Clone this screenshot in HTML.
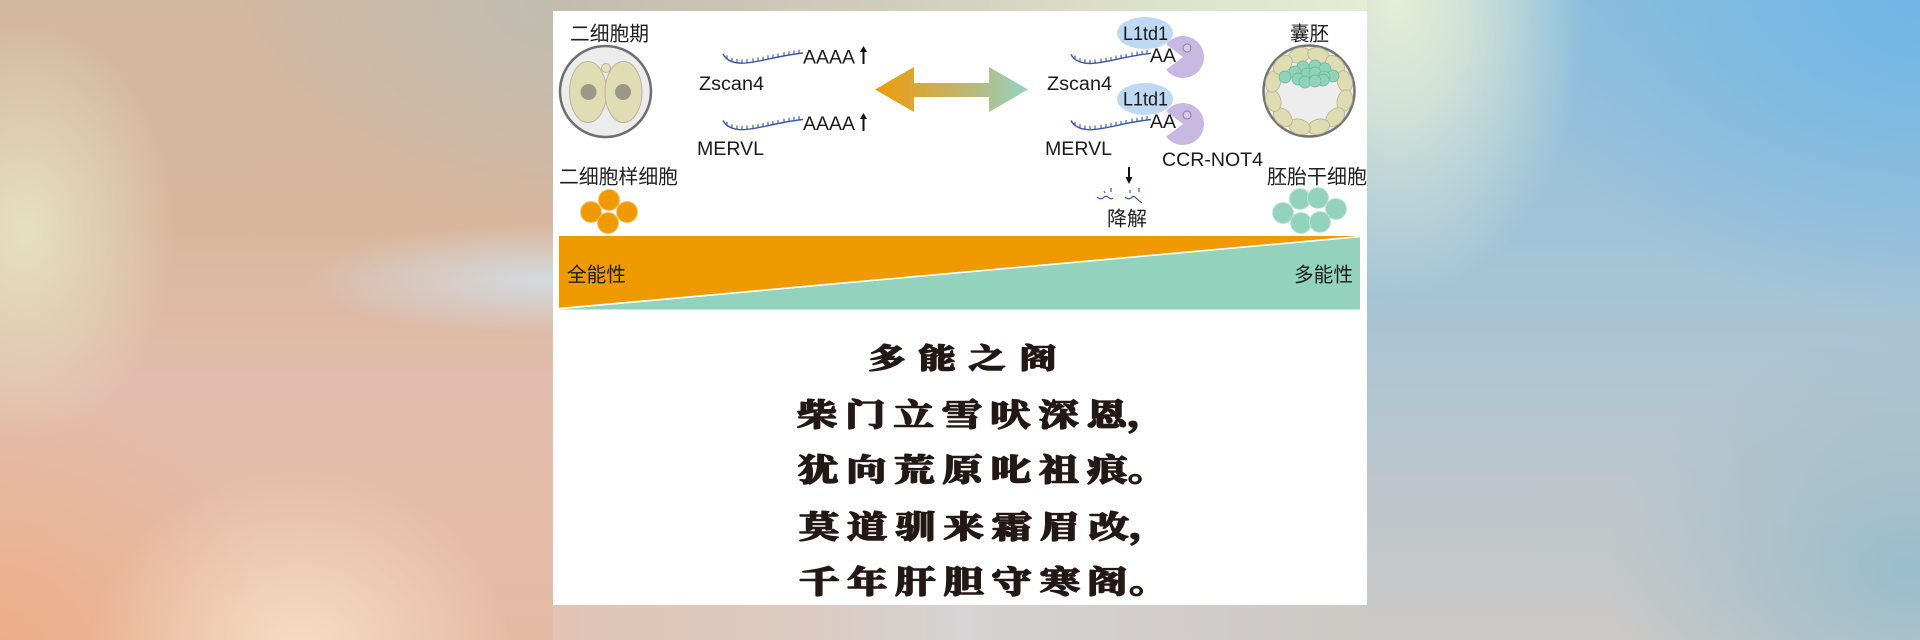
<!DOCTYPE html>
<html><head><meta charset="utf-8">
<style>
html,body{margin:0;padding:0;width:1920px;height:640px;overflow:hidden;background:#d8c4b4;}
.bg{position:absolute;}
#L{left:0;top:0;width:553px;height:640px;background:
 radial-gradient(150px 210px at 25px 230px, rgba(230,226,196,0.95) 0%, rgba(230,226,196,0.55) 45%, rgba(230,226,196,0) 100%),
 radial-gradient(240px 55px at 545px 280px, rgba(210,224,234,0.85) 0%, rgba(210,224,234,0) 100%),
 radial-gradient(210px 180px at 300px 650px, rgba(246,222,196,0.95) 0%, rgba(246,222,196,0) 100%),
 radial-gradient(280px 260px at 0px 650px, rgba(238,174,134,0.95) 0%, rgba(238,174,134,0) 100%),
 radial-gradient(320px 220px at 560px 0px, rgba(188,190,178,0.9) 0%, rgba(188,190,178,0) 100%),
 linear-gradient(to bottom, #d3b8a2 0%, #d8b79e 35%, #e2bdad 60%, #e6bba6 100%);}
#R{left:1367px;top:0;width:553px;height:640px;background:
 radial-gradient(190px 300px at 30px 0px, rgba(230,238,214,1) 0%, rgba(230,238,214,0.7) 40%, rgba(230,238,214,0) 100%),
 radial-gradient(420px 320px at 553px 0px, rgba(112,182,230,1) 0%, rgba(112,182,230,0) 100%),
 radial-gradient(300px 240px at 540px 570px, rgba(150,188,204,0.9) 0%, rgba(150,188,204,0) 100%),
 linear-gradient(to bottom, #90bfdc 0%, #a6c4d6 45%, #bcc6cc 75%, #cbc9c6 100%);}
#T{left:553px;top:0;width:814px;height:11px;background:linear-gradient(to right,#c4bcae 0%,#d0ccbc 40%,#dde2cc 75%,#e4ecd6 100%);}
#B{left:553px;top:605px;width:814px;height:35px;background:linear-gradient(to right,#e2c4b4 0%,#dccac0 30%,#d6d4d4 50%,#d2cdcb 75%,#ccc8c4 100%);}
svg{position:absolute;left:0;top:0;}
.lt{font-family:"Liberation Sans",Arial,sans-serif;font-size:19px;fill:#1a1a1a;}
.cj{font-family:"Liberation Sans","Noto Sans CJK SC",sans-serif;font-size:20px;fill:#1e1e1e;}
.pm{font-family:"Noto Serif CJK SC","Liberation Serif",serif;fill:#231815;stroke:#231815;stroke-width:1.6;stroke-linejoin:round;font-weight:700;}
</style></head>
<body>
<div class="bg" id="L"></div>
<div class="bg" id="R"></div>
<div class="bg" id="T"></div>
<div class="bg" id="B"></div>
<svg width="1920" height="640" viewBox="0 0 1920 640" xmlns="http://www.w3.org/2000/svg">
<defs>
 <linearGradient id="ag" x1="875" y1="0" x2="1028" y2="0" gradientUnits="userSpaceOnUse">
  <stop offset="0" stop-color="#ec9c08"/>
  <stop offset="0.5" stop-color="#c8b062"/>
  <stop offset="1" stop-color="#90d4c0"/>
 </linearGradient>
 <g id="rna" fill="none" stroke="#3a56a8" stroke-width="1.4">
  <path d="M0,0 C3,6 9,9 19,9.2 C34,9.2 52,2 80,-1"/>
  <path d="M4,5 v-3.8 M9,7.6 v-3.8 M14,8.8 v-3.8 M19,9.2 v-3.8 M24,8.9 v-3.8 M30,8.1 v-3.8 M35,7.3 v-3.8 M40,6.4 v-3.8 M45,5.1 v-3.8 M50,4.2 v-3.8 M55,3.3 v-3.8 M61,1.9 v-3.8 M66,1 v-3.8 M71,0.1 v-3.8 M76,-0.6 v-3.8" stroke-width="1.1"/>
 </g>
 <g id="pac">
  <path d="M0,0 L-16.8,-12.6 A21,21 0 1 1 -16.8,12.6 Z" fill="#c8b8e2"/>
  <circle cx="4" cy="-9" r="4" fill="#d6cbe8" stroke="#8a8296" stroke-width="1"/>
 </g>
 <g id="upar" fill="#111">
  <rect x="-1" y="-9" width="2" height="13"/>
  <path d="M-3.5,-8 L3.5,-8 L0,-14 Z"/>
 </g>
</defs>

<!-- panel -->
<rect x="553" y="11" width="814" height="594" fill="#fff"/>

<!-- two-cell stage -->
<text class="cj" x="570" y="40.5" textLength="79" lengthAdjust="spacingAndGlyphs">二细胞期</text>
<circle cx="605.5" cy="91.5" r="45.5" fill="#ececec" stroke="#6e6e6e" stroke-width="2.5"/>
<ellipse cx="588" cy="92" rx="18.5" ry="30.5" fill="#e0dcb4" stroke="#b8b59c" stroke-width="1"/>
<ellipse cx="623.5" cy="92" rx="18.5" ry="30.5" fill="#e0dcb4" stroke="#b8b59c" stroke-width="1"/>
<circle cx="606" cy="68" r="4.5" fill="#e4e0bc" stroke="#b8b59c" stroke-width="1"/>
<circle cx="588.5" cy="92" r="8" fill="#9c9888"/>
<circle cx="623" cy="92" r="8" fill="#9c9888"/>

<!-- two-cell-like cells -->
<text class="cj" x="559" y="183.5" textLength="119" lengthAdjust="spacingAndGlyphs">二细胞样细胞</text>
<g fill="#ee9a00" stroke="#f6c470" stroke-width="1">
 <circle cx="609" cy="200" r="10.5"/>
 <circle cx="591" cy="212" r="10.5"/>
 <circle cx="627" cy="212" r="10.5"/>
 <circle cx="608" cy="223" r="10.5"/>
</g>

<!-- left RNAs -->
<use href="#rna" x="723" y="54"/>
<text class="lt" x="803" y="63.5" textLength="52" lengthAdjust="spacingAndGlyphs">AAAA</text>
<use href="#upar" x="863.5" y="60"/>
<text class="lt" x="699" y="90" textLength="65" lengthAdjust="spacingAndGlyphs">Zscan4</text>
<use href="#rna" x="723" y="120.5"/>
<text class="lt" x="803" y="130" textLength="52" lengthAdjust="spacingAndGlyphs">AAAA</text>
<use href="#upar" x="863.5" y="127"/>
<text class="lt" x="697" y="155" textLength="67" lengthAdjust="spacingAndGlyphs">MERVL</text>

<!-- double arrow -->
<polygon points="875,89.5 914,67 914,83 989,83 989,67 1028,89.5 989,112 989,97 914,97 914,112" fill="url(#ag)"/>

<!-- right side complexes -->
<ellipse cx="1145" cy="33" rx="28" ry="16" fill="#bfd9f2"/>
<use href="#pac" x="1183" y="57"/>
<use href="#rna" x="1071" y="54.3"/>
<text class="lt" x="1123" y="40" textLength="45" lengthAdjust="spacingAndGlyphs">L1td1</text>
<text class="lt" x="1150" y="62" textLength="26" lengthAdjust="spacingAndGlyphs">AA</text>
<text class="lt" x="1047" y="90" textLength="65" lengthAdjust="spacingAndGlyphs">Zscan4</text>

<ellipse cx="1145" cy="99" rx="28" ry="16" fill="#bfd9f2"/>
<use href="#pac" x="1183" y="124"/>
<use href="#rna" x="1071" y="120.5"/>
<text class="lt" x="1123" y="105.5" textLength="45" lengthAdjust="spacingAndGlyphs">L1td1</text>
<text class="lt" x="1150" y="128" textLength="26" lengthAdjust="spacingAndGlyphs">AA</text>
<text class="lt" x="1045" y="155" textLength="67" lengthAdjust="spacingAndGlyphs">MERVL</text>
<text class="lt" x="1162" y="166" textLength="101" lengthAdjust="spacingAndGlyphs">CCR-NOT4</text>

<!-- degradation -->
<g fill="#111">
 <rect x="1128" y="167" width="2" height="12"/>
 <path d="M1125.5,177 L1132.5,177 L1129,184 Z"/>
</g>
<g fill="none" stroke="#3a56a8" stroke-width="1.2">
 <path d="M1097,197 q3,3 6,1 q3,-3 5,-1 q3,3 5,1"/>
 <path d="M1125,197 q3,3 6,1 q3,-3 5,0 q3,3 6,5"/>
 <path d="M1111,188 v4 M1130,190 v3 M1139,188 v4 M1104,191 l1,2"/>
</g>
<text class="cj" x="1107" y="225.5" textLength="40" lengthAdjust="spacingAndGlyphs">降解</text>

<!-- blastocyst -->
<text class="cj" x="1290" y="40.5" textLength="39" lengthAdjust="spacingAndGlyphs">囊胚</text>
<circle cx="1309" cy="91" r="45.5" fill="#ededed" stroke="#747474" stroke-width="2.5"/>
<g fill="#e0dcb2" stroke="#b6b294" stroke-width="0.8">
 <ellipse cx="1346" cy="91" rx="7.5" ry="11" transform="rotate(-105 1309 91)"/>
 <ellipse cx="1346" cy="91" rx="7.5" ry="11" transform="rotate(-75 1309 91)"/>
 <ellipse cx="1346" cy="91" rx="7.5" ry="11" transform="rotate(-45 1309 91)"/>
 <ellipse cx="1346" cy="91" rx="7.5" ry="11" transform="rotate(-15 1309 91)"/>
 <ellipse cx="1346" cy="91" rx="7.5" ry="11" transform="rotate(15 1309 91)"/>
 <ellipse cx="1346" cy="91" rx="7.5" ry="11" transform="rotate(45 1309 91)"/>
 <ellipse cx="1346" cy="91" rx="7.5" ry="11" transform="rotate(75 1309 91)"/>
 <ellipse cx="1346" cy="91" rx="7.5" ry="11" transform="rotate(105 1309 91)"/>
 <ellipse cx="1346" cy="91" rx="7.5" ry="11" transform="rotate(135 1309 91)"/>
 <ellipse cx="1346" cy="91" rx="7.5" ry="11" transform="rotate(165 1309 91)"/>
 <ellipse cx="1346" cy="91" rx="7.5" ry="11" transform="rotate(195 1309 91)"/>
 <ellipse cx="1346" cy="91" rx="7.5" ry="11" transform="rotate(225 1309 91)"/>
</g>
<g fill="#8fd3ba" stroke="#6db39a" stroke-width="0.7">
 <circle cx="1303" cy="67" r="6"/>
 <circle cx="1315" cy="66" r="6"/>
 <circle cx="1325" cy="69" r="6"/>
 <circle cx="1295" cy="72" r="6"/>
 <circle cx="1333" cy="76" r="6"/>
 <circle cx="1285" cy="77" r="6"/>
 <circle cx="1307" cy="74" r="6"/>
 <circle cx="1315" cy="73" r="6"/>
 <circle cx="1324" cy="77" r="6"/>
 <circle cx="1298" cy="79" r="6"/>
 <circle cx="1323" cy="80" r="6"/>
 <circle cx="1305" cy="82" r="6"/>
 <circle cx="1315" cy="81" r="6"/>
</g>

<!-- ES cells -->
<text class="cj" x="1267" y="183.5" textLength="100" lengthAdjust="spacingAndGlyphs">胚胎干细胞</text>
<g fill="#93d3bd" stroke="#c0e7d9" stroke-width="1">
 <circle cx="1300" cy="199" r="10.5"/>
 <circle cx="1318" cy="198" r="10.5"/>
 <circle cx="1336" cy="209" r="10.5"/>
 <circle cx="1283" cy="213" r="10.5"/>
 <circle cx="1301" cy="223" r="10.5"/>
 <circle cx="1320" cy="222" r="10.5"/>
</g>

<!-- potency band -->
<polygon points="559,236 1360,236 1360,237 559,309" fill="#ee9a00"/>
<polygon points="559,309.5 1360,237 1360,309.5" fill="#93d3bd"/>
<line x1="559" y1="308.6" x2="1360" y2="236.6" stroke="#ffffff" stroke-width="1.6"/>
<text class="cj" x="567" y="281.5" textLength="59" lengthAdjust="spacingAndGlyphs">全能性</text>
<text class="cj" x="1294" y="281.5" textLength="59" lengthAdjust="spacingAndGlyphs">多能性</text>

<!-- poem -->
<g transform="scale(1.32,1)">
 <text class="pm" font-size="28" text-anchor="middle" x="671.97 709.85 747.73 786.36" y="368">多能之阁</text>
</g>
<g transform="scale(1.3,1)">
 <text class="pm" font-size="31" text-anchor="middle" x="628.46 665.61 702.77 739.92 777.08 814.23 851.38" y="426">柴门立雪吠深恩</text>
 <text class="pm" font-size="31" x="867" y="426">，</text>
 <text class="pm" font-size="31" text-anchor="middle" x="629.23 666.31 703.38 740.46 777.54 814.62 851.69" y="481">犹向荒原叱祖痕</text>
 <text class="pm" font-size="31" x="867.5" y="481">。</text>
 <text class="pm" font-size="31" text-anchor="middle" x="630 667.08 704.15 741.23 778.31 815.38 852.92" y="538">莫道驯来霜眉改</text>
 <text class="pm" font-size="31" x="868.5" y="538">，</text>
 <text class="pm" font-size="31" text-anchor="middle" x="630 667.08 704.15 741.23 778.31 815.38 851.69" y="593">千年肝胆守寒阁</text>
 <text class="pm" font-size="31" x="868.5" y="593">。</text>
</g>
</svg>
</body></html>
